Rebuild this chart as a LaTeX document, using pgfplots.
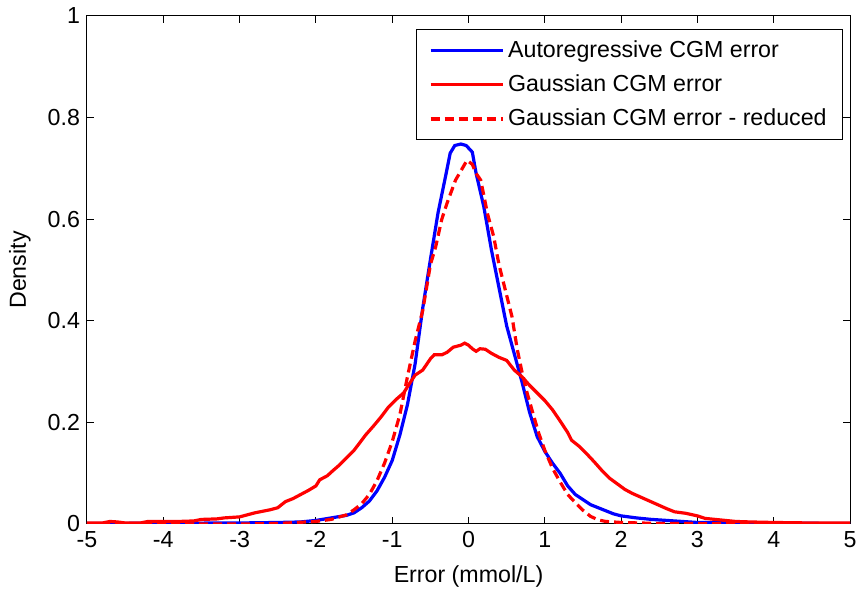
\documentclass[border=0pt]{standalone}
\usepackage{fontspec}
\setmainfont{Liberation Sans}
\usepackage{pgfplots}
\pgfplotsset{compat=1.18}
\newcommand{\ff}{\fontsize{11.6}{14}\selectfont}
\begin{document}
\begin{tikzpicture}
\begin{axis}[
  scale only axis,
  width=381.5pt, height=254pt,
  xmin=-5, xmax=5, ymin=0, ymax=1,
  xtick={-5,-4,-3,-2,-1,0,1,2,3,4,5},
  xticklabels={-5,-4,-3,-2,-1,0,1,2,3,4,5},
  ytick={0,0.2,0.4,0.6,0.8,1},
  yticklabels={0,0.2,0.4,0.6,0.8,1},
  tick align=inside, tick pos=both,
  major tick length=3.5pt,
  axis line style={line width=0.5pt},
  every tick/.style={black, line width=0.5pt},
  tick label style={font=\ff},
  xlabel={Error (mmol/L)}, ylabel={Density},
  every axis x label/.style={at={(axis description cs:0.5,-0.104)}, anchor=center, font=\ff},
  every axis y label/.style={at={(axis description cs:-0.088,0.5)}, anchor=center, rotate=90, font=\ff},
  legend style={at={(axis description cs:0.991,0.974)}, anchor=north east, draw=black, line width=0.5pt, font=\ff, row sep=3.2pt, inner xsep=6pt, inner ysep=3.5pt},
  legend cell align=left,
  legend image code/.code={\draw[#1] (0pt,0pt) -- (36pt,0pt);},
]
\addplot[blue, line width=1.6pt] coordinates {
(-5.0,0.001) (-3.0,0.002) (-2.5,0.003) (-2.2,0.004) (-2.0,0.007) (-1.8,0.012) (-1.6,0.017) (-1.5,0.022) (-1.4,0.032) (-1.3,0.045) (-1.2,0.065) (-1.1,0.092) (-1.0,0.125) (-0.9,0.175) (-0.8,0.235) (-0.7,0.315) (-0.6,0.425) (-0.5,0.52) (-0.4,0.612) (-0.3,0.685) (-0.24,0.73) (-0.18,0.745) (-0.1,0.748) (-0.03,0.745) (0.05,0.732) (0.1,0.69) (0.2,0.625) (0.3,0.54) (0.4,0.465) (0.5,0.39) (0.6,0.335) (0.7,0.28) (0.8,0.22) (0.9,0.172) (1.0,0.143) (1.1,0.12) (1.2,0.1) (1.3,0.075) (1.4,0.058) (1.5,0.048) (1.6,0.038) (1.7,0.032) (1.8,0.026) (1.9,0.02) (2.0,0.016) (2.2,0.012) (2.4,0.009) (2.6,0.007) (2.8,0.005) (3.0,0.003) (3.5,0.002) (5.0,0.001)
};
\addlegendentry{Autoregressive CGM error}
\addplot[red, line width=1.6pt] coordinates {
(-5.0,0.002) (-4.8,0.002) (-4.7,0.005) (-4.6,0.004) (-4.5,0.002) (-4.3,0.002) (-4.2,0.005) (-4.0,0.005) (-3.8,0.005) (-3.6,0.006) (-3.5,0.009) (-3.3,0.010) (-3.2,0.012) (-3.0,0.014) (-2.9,0.018) (-2.8,0.022) (-2.6,0.028) (-2.5,0.032) (-2.4,0.044) (-2.3,0.050) (-2.2,0.058) (-2.1,0.066) (-2.0,0.075) (-1.95,0.087) (-1.85,0.095) (-1.77,0.106) (-1.7,0.115) (-1.6,0.130) (-1.5,0.145) (-1.45,0.155) (-1.35,0.175) (-1.25,0.192) (-1.15,0.210) (-1.05,0.230) (-0.95,0.245) (-0.85,0.258) (-0.78,0.275) (-0.7,0.293) (-0.6,0.303) (-0.5,0.325) (-0.45,0.333) (-0.35,0.333) (-0.28,0.338) (-0.2,0.348) (-0.1,0.352) (-0.05,0.356) (0.0,0.352) (0.05,0.345) (0.1,0.340) (0.15,0.345) (0.22,0.344) (0.3,0.336) (0.4,0.328) (0.5,0.322) (0.6,0.303) (0.7,0.290) (0.8,0.273) (0.9,0.258) (1.0,0.243) (1.1,0.225) (1.2,0.203) (1.3,0.180) (1.35,0.165) (1.45,0.153) (1.55,0.138) (1.65,0.122) (1.75,0.105) (1.85,0.090) (1.95,0.079) (2.05,0.068) (2.15,0.060) (2.3,0.050) (2.45,0.040) (2.6,0.030) (2.7,0.024) (2.85,0.021) (3.0,0.016) (3.1,0.011) (3.3,0.008) (3.5,0.005) (3.7,0.004) (4.0,0.003) (4.5,0.002) (5.0,0.002)
};
\addlegendentry{Gaussian CGM error}
\addplot[red, line width=1.6pt, dash pattern=on 4.5pt off 2.5pt] coordinates {
(-5.0,0.0) (-3.0,0.0) (-2.5,0.001) (-2.0,0.005) (-1.8,0.009) (-1.6,0.018) (-1.5,0.028) (-1.4,0.040) (-1.3,0.058) (-1.2,0.085) (-1.1,0.12) (-1.0,0.162) (-0.9,0.215) (-0.8,0.29) (-0.7,0.36) (-0.6,0.42) (-0.5,0.51) (-0.43,0.546) (-0.35,0.60) (-0.28,0.632) (-0.17,0.677) (-0.1,0.695) (-0.02,0.716) (0.05,0.708) (0.1,0.69) (0.16,0.677) (0.25,0.61) (0.33,0.566) (0.4,0.51) (0.5,0.45) (0.57,0.408) (0.64,0.343) (0.7,0.30) (0.77,0.257) (0.85,0.215) (0.92,0.179) (1.0,0.145) (1.1,0.11) (1.2,0.083) (1.3,0.058) (1.4,0.042) (1.5,0.027) (1.6,0.015) (1.7,0.008) (1.8,0.005) (2.0,0.003) (2.5,0.001) (5.0,0.0)
};
\addlegendentry{Gaussian CGM error - reduced}
\end{axis}
\pgfresetboundingbox
\useasboundingbox ([xshift=-43.5pt,yshift=-34pt]current axis.south west) rectangle ([xshift=5pt,yshift=8pt]current axis.north east);
\end{tikzpicture}
\end{document}
